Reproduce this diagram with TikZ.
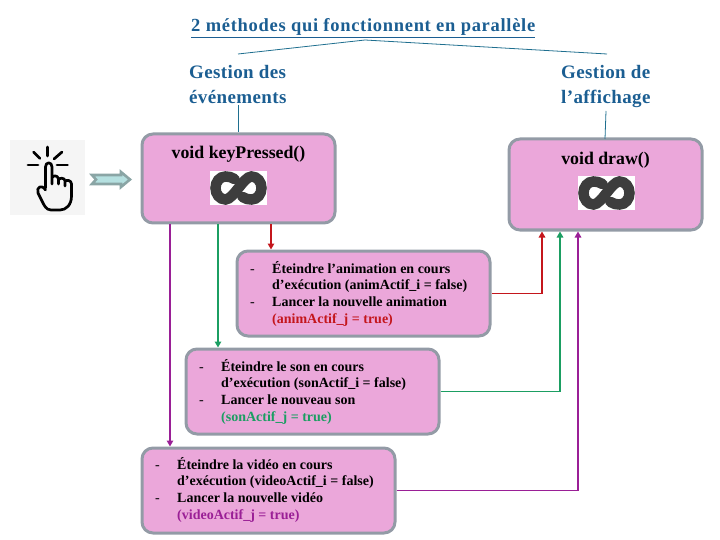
\documentclass[tikz,border=0pt]{standalone}
\usepackage{fontspec}
\setmainfont{Liberation Serif}
\usetikzlibrary{arrows.meta}
\definecolor{boxfill}{HTML}{EBA7DA}
\definecolor{boxline}{HTML}{939BA6}
\definecolor{titleblue}{HTML}{1B5E92}
\definecolor{linkblue}{HTML}{1F6F8F}
\definecolor{myred}{HTML}{C4161C}
\definecolor{mygreen}{HTML}{1B9E62}
\definecolor{mypurple}{HTML}{9A1F96}
\definecolor{darkinf}{HTML}{3D3D3D}
\definecolor{arrfill}{HTML}{B5E0E0}
\definecolor{arrline}{HTML}{8AA5A5}
\tikzset{
  x=1pt,y=-1pt,
  mbox/.style={draw=boxline,line width=3pt,fill=boxfill,rounded corners=11pt,inner sep=0pt},
  headtxt/.style={font=\bfseries\fontsize{19}{25}\selectfont\addfontfeature{LetterSpace=2},text=titleblue,align=left,inner sep=0pt},
  methtxt/.style={font=\bfseries\fontsize{17.8}{20}\selectfont,text=black,inner sep=0pt},
  itemtxt/.style={font=\bfseries\fontsize{14}{16.7}\selectfont,text=black,align=left,inner sep=0pt,anchor=north west},
  link/.style={linkblue,line width=0.8pt},
  flow/.style={line width=1.8pt,-{Triangle[length=6pt,width=6.5pt]}},
  pics/infsym/.style={code={
    \fill[white] (-28.5,-17) rectangle (28.5,17);
    \draw[darkinf,line width=10.5pt,line cap=round]
      (-4,-9) .. controls (-7,-11) and (-10,-11.5) .. (-13,-11.5)
      .. controls (-19,-11.5) and (-23,-6) .. (-23,0)
      .. controls (-23,6) and (-19,11.5) .. (-13,11.5)
      .. controls (-5,11.5) and (5,-11.5) .. (13,-11.5)
      .. controls (19,-11.5) and (23,-6) .. (23,0)
      .. controls (23,6) and (19,11.5) .. (13,11.5)
      .. controls (10,11.5) and (7,11) .. (4,9);
  }}
}
\newcommand{\itemtab}[4]{\begin{tabular}{@{}p{22pt}@{}l@{}}\textmd{-}&#1\\&#2\\\textmd{-}&#3\\&#4\end{tabular}}
\begin{document}
\begin{tikzpicture}
\useasboundingbox (0,0) rectangle (720,540);
% title
\node[font=\bfseries\fontsize{18.5}{20}\selectfont\addfontfeature{LetterSpace=3.8},text=titleblue,inner sep=0pt,anchor=base west] (title) at (191,31.5) {\underline{2 méthodes qui fonctionnent en parallèle}};
\coordinate (apex) at (365,40);
\coordinate (lft) at (238,54);
\coordinate (rgt) at (607,54);
\draw[link] (lft) -- (apex) -- (rgt);
% headings
\node[headtxt,anchor=north west] (hl) at (189,65) {Gestion des\\événements};
\node[headtxt,anchor=north west] (hr) at (561,65) {Gestion de\\l’affichage};
% boxes
\node[mbox,minimum width=193pt,minimum height=89pt] (kp) at (238.5,178.5) {};
\node[mbox,minimum width=193pt,minimum height=91pt] (dr) at (605.5,184.5) {};
\node[mbox,minimum width=253pt,minimum height=85pt] (an) at (363.5,293.5) {};
\node[mbox,minimum width=253pt,minimum height=85pt] (so) at (312.5,391.5) {};
\node[mbox,minimum width=253pt,minimum height=85pt] (vi) at (268.5,490.5) {};
% heading links
\draw[link] (238,105) coordinate (ha) -- (ha |- kp.north);
\draw[link] (606,111) coordinate (hb) -- (605,139);
% method titles
\node[methtxt] (kpt) at (238.5,154.5) {void keyPressed()};
\node[methtxt] (drt) at (605.5,160.5) {void draw()};
\pic at (238.5,188) {infsym};
\pic at (606.5,193) {infsym};
% item texts
\node[itemtxt] (ant) at (250,261) {\itemtab{Éteindre l’animation en cours}{d’exécution (animActif\_i = false)}{Lancer la nouvelle animation}{\textcolor{myred}{(animActif\_j = true)}}};
\node[itemtxt] (sot) at (199,359) {\itemtab{Éteindre le son en cours}{d’exécution (sonActif\_i = false)}{Lancer le nouveau son}{\textcolor{mygreen}{(sonActif\_j = true)}}};
\node[itemtxt] (vit) at (155,457) {\itemtab{Éteindre la vidéo en cours}{d’exécution (videoActif\_i = false)}{Lancer la nouvelle vidéo}{\textcolor{mypurple}{(videoActif\_j = true)}}};
% flow connectors
\coordinate (xr) at (271,0);
\coordinate (xg) at (218,0);
\coordinate (xp) at (170,0);
\coordinate (xr2) at (542,0);
\coordinate (xg2) at (560,0);
\coordinate (xp2) at (578,0);
\draw[flow,myred] (kp.south -| xr) -- (an.north -| xr);
\draw[flow,mygreen] (kp.south -| xg) -- (so.north -| xg);
\draw[flow,mypurple] (kp.south -| xp) -- (vi.north -| xp);
\draw[flow,myred] (an.east) -| (dr.south -| xr2);
\draw[flow,mygreen] (so.east) -| (dr.south -| xg2);
\draw[flow,mypurple] (vi.east) -| (dr.south -| xp2);
% hand icon
\fill[black!4] (10,140) rectangle (85,215);
\begin{scope}[line cap=round,line join=round,line width=2.7pt]
\draw (47.5,147) -- (47.5,156);
\draw (33.5,152) -- (40,158.5);
\draw (62,152) -- (54,159);
\draw (28,165) -- (38,165);
\draw (57,165) -- (67.5,165);
\draw (45.5,188) -- (45.5,167) .. controls (45.5,161.5) and (52,161.5) .. (52,167) -- (52,184)
  (52,178) .. controls (52.5,175) and (58,175) .. (58.5,179) -- (58.5,184)
  (58.5,180) .. controls (59,177.5) and (65,177.5) .. (65,181) -- (65,186)
  (65,181.5) .. controls (66,179.5) and (71.5,180) .. (71.5,184) -- (71.5,196)
  .. controls (71.5,205) and (66,210) .. (60,210) -- (51,210)
  .. controls (46,210) and (44,205) .. (42,201) -- (38,193)
  .. controls (36,187) and (42,184) .. (45.5,190);
\end{scope}
% entry arrow
\filldraw[fill=arrfill,draw=arrline,line width=2.6pt,line join=miter]
  (92,175) -- (121,175) -- (121,172) -- (130,179.5) -- (121,187) -- (121,184) -- (92,184) -- (96,179.5) -- cycle;
\end{tikzpicture}
\end{document}
